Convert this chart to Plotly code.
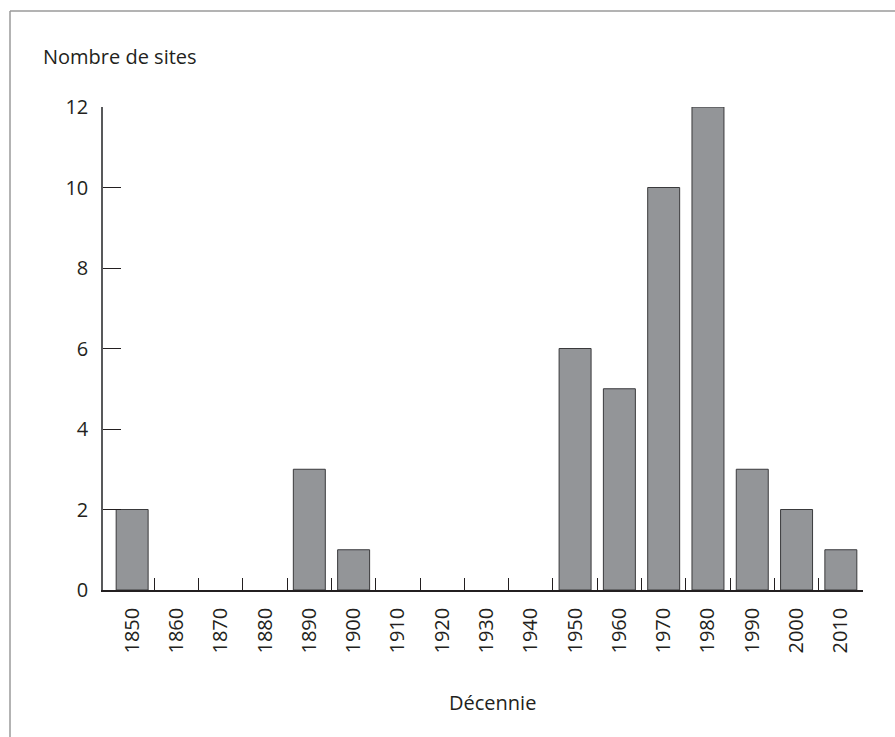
import plotly.graph_objects as go

decades = ["1850", "1860", "1870", "1880", "1890", "1900", "1910", "1920", "1930",
           "1940", "1950", "1960", "1970", "1980", "1990", "2000", "2010"]
sites = [2, 0, 0, 0, 3, 1, 0, 0, 0, 0, 6, 5, 10, 12, 3, 2, 1]
y_ticks = [0, 2, 4, 6, 8, 10, 12]

W, H = 895, 737
L, R, T, B = 103, 32, 107, 147
plot_w = W - L - R
plot_h = H - T - B

n = len(decades)
x_left = -0.5 - 7 / 44.3
x_right = n - 0.5
xr = [x_left, x_right]
boundaries = [x_left] + [i + 0.5 for i in range(n)]

ink = "#231f20"
font = dict(family="Open Sans, Noto Sans, sans-serif", size=20, color=ink)

fig = go.Figure()
fig.add_trace(go.Bar(
    x=decades, y=sites,
    marker=dict(color="#939598",
                line=dict(color="#3a3a3c", width=[1 if v > 0 else 0 for v in sites])),
    showlegend=False, hoverinfo="x+y",
))
# invisible trace on overlay axis to activate it
fig.add_trace(go.Scatter(x=[x_left, x_right], y=[0, 0], xaxis="x2", mode="markers",
                         marker=dict(opacity=0), showlegend=False, hoverinfo="skip"))


def px_to_paper_x(px):
    return (px - L) / plot_w


def px_to_paper_y(py):
    return (H - B - py) / plot_h


fig.update_layout(
    width=W, height=H,
    margin=dict(l=L, r=R, t=T, b=B, pad=0),
    paper_bgcolor="white", plot_bgcolor="white",
    bargap=0.278,
    font=font,
    xaxis=dict(
        type="category", range=xr, showgrid=False, zeroline=False,
        showline=True, linecolor=ink, linewidth=1.5,
        ticks="", tickangle=-90, ticklabelstandoff=8,
        tickfont=font, fixedrange=True,
    ),
    xaxis2=dict(
        overlaying="x", anchor="y", side="bottom", type="linear", range=xr,
        tickmode="array", tickvals=boundaries, showticklabels=False,
        ticks="inside", ticklen=12, tickwidth=1.3, tickcolor=ink,
        showgrid=False, zeroline=False, showline=False, fixedrange=True,
    ),
    yaxis=dict(
        range=[0, 12], tickmode="array", tickvals=y_ticks,
        ticks="inside", ticklen=18, tickwidth=1.3, tickcolor=ink,
        showline=True, linecolor="#58595b", linewidth=1.5,
        showgrid=False, zeroline=False, ticklabelstandoff=9,
        tickfont=font, fixedrange=True,
    ),
    annotations=[
        dict(text="Nombre de sites", xref="paper", yref="paper",
             x=px_to_paper_x(41), y=px_to_paper_y(57), xanchor="left", yanchor="middle",
             showarrow=False, font=font),
        dict(text="Décennie", xref="paper", yref="paper",
             x=px_to_paper_x(492), y=px_to_paper_y(702), xanchor="center", yanchor="middle",
             showarrow=False, font=font),
    ],
    shapes=[
        dict(type="line", xref="paper", yref="paper",
             x0=px_to_paper_x(10), x1=px_to_paper_x(W + 10),
             y0=px_to_paper_y(11), y1=px_to_paper_y(11),
             line=dict(color="#9a9a9a", width=1.5)),
        dict(type="line", xref="paper", yref="paper",
             x0=px_to_paper_x(10), x1=px_to_paper_x(10),
             y0=px_to_paper_y(11), y1=px_to_paper_y(H + 10),
             line=dict(color="#9a9a9a", width=1.5)),
    ],
)

fig.write_html("out.html", config={"displayModeBar": False},
               post_script="document.body.style.margin='0';")
